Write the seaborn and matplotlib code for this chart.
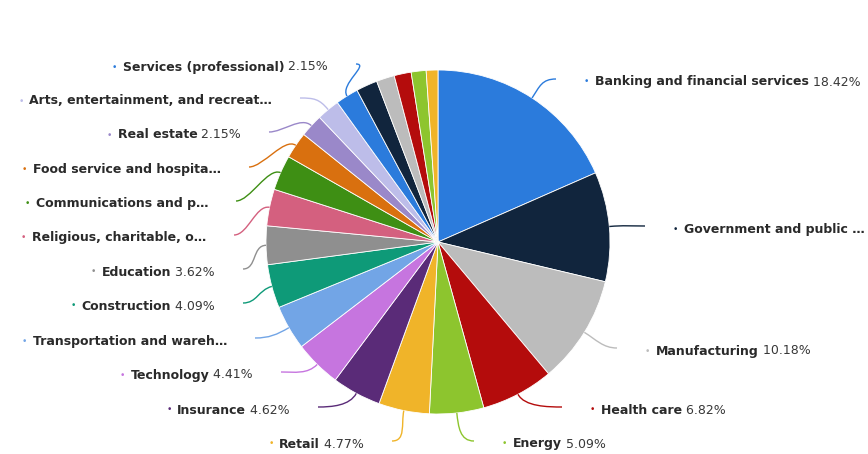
import matplotlib
matplotlib.use("Agg")
import matplotlib.pyplot as plt
import seaborn as sns
import numpy as np
from matplotlib.path import Path
from matplotlib.patches import PathPatch

# ---------------- data ----------------
sectors = [
    "Banking and financial services", "Government and public \u2026", "Manufacturing",
    "Health care", "Energy", "Retail", "Insurance", "Technology",
    "Transportation and wareh\u2026", "Construction", "Education",
    "Religious, charitable, o\u2026", "Communications and p\u2026",
    "Food service and hospita\u2026", "Real estate",
    "Arts, entertainment, and recreat\u2026", "Services (professional)",
    "", "", "", "", "",
]
shares = [18.42, 10.3, 10.18, 6.82, 5.09, 4.77, 4.62, 4.41, 4.2, 4.09, 3.62,
          3.45, 3.3, 2.5, 2.15, 2.15, 2.15, 2.0, 1.7, 1.6, 1.4, 1.1]
colors = ["#2b7bdc", "#11253d", "#bcbcbc", "#b40c0c", "#8dc52e", "#f0b429",
          "#5a2b78", "#c675df", "#72a5e6", "#0e9a78", "#8f8f8f", "#d4607f",
          "#3e8f14", "#d9700f", "#9a88c9", "#bdbde9", "#2b7bdc",
          "#11253d", "#bcbcbc", "#b40c0c", "#8dc52e", "#f0b429"]

# ---------------- layout (pixels from top-left) ----------------
W, H = 868, 454
CX, CY, R = 438, 242, 172
# side, label y, text edge x (right side: left edge of bullet; left side: right end of text)
label_layout = {
    0: ("R", 82, 584), 1: ("R", 229, 673), 2: ("R", 351, 645),
    3: ("R", 410, 590), 4: ("R", 444, 502),
    5: ("L", 444, 364), 6: ("L", 410, 290), 7: ("L", 375, 253),
    8: ("L", 341, 227), 9: ("L", 306, 215), 10: ("L", 272, 215),
    11: ("L", 238, 206), 12: ("L", 204, 208), 13: ("L", 170, 221),
    14: ("L", 135, 241), 15: ("L", 101, 272), 16: ("L", 67, 328),
}

sns.set_theme(style="white")
plt.rcParams["font.family"] = ["DejaVu Sans"]

fig = plt.figure(figsize=(W / 100, H / 100), dpi=100)
ax = fig.add_axes([0, 0, 1, 1])

wedges, _ = ax.pie(shares, colors=colors, startangle=90, counterclock=False,
                   center=(CX, H - CY), radius=R,
                   wedgeprops=dict(edgecolor="white", linewidth=0.6))
ax.set_xlim(0, W)
ax.set_ylim(0, H)
ax.set_aspect("equal")
ax.axis("off")

total = sum(shares)
cum = np.cumsum([0] + shares[:-1]) / total * 360
mids = cum + np.array(shares) / total * 180

FS = 9.0
NAME_COLOR = "#2a2a2a"
PCT_COLOR = "#383838"
for i, name in enumerate(sectors):
    if i not in label_layout or not name:
        continue
    side, ly, lx = label_layout[i]
    Y = H - ly
    th = np.deg2rad(mids[i])
    u = np.array([np.sin(th), np.cos(th)])
    p0 = np.array([CX, H - CY]) + u * R
    p1 = p0 + u * 14
    if side == "R":
        p3 = np.array([lx - 28, Y + 3])
        p2 = p3 + np.array([-14, 0])
    else:
        p3 = np.array([lx + 28, Y + 3])
        p2 = p3 + np.array([14, 0])
    path = Path([p0, p1, p2, p3], [Path.MOVETO, Path.CURVE4, Path.CURVE4, Path.CURVE4])
    ax.add_patch(PathPatch(path, fc="none", ec=colors[i], lw=1.0))

    truncated = name.endswith("\u2026")
    pct = "" if truncated else f" {shares[i]:.2f}%"
    if side == "R":
        b = ax.text(lx, Y, "\u2022", color=colors[i], fontsize=6.5, ha="left", va="center")
        t = ax.annotate(name, xy=(1, 0.5), xycoords=b, xytext=(4, 0), textcoords="offset points",
                        ha="left", va="center", fontsize=FS, fontweight="bold", color=NAME_COLOR)
        if pct:
            ax.annotate(pct, xy=(1, 0.5), xycoords=t, ha="left", va="center",
                        fontsize=FS, color=PCT_COLOR)
    else:
        if pct:
            p = ax.text(lx, Y, pct, ha="right", va="center", fontsize=FS, color=PCT_COLOR)
            t = ax.annotate(name, xy=(0, 0.5), xycoords=p, ha="right", va="center",
                            fontsize=FS, fontweight="bold", color=NAME_COLOR)
        else:
            t = ax.text(lx, Y, name, ha="right", va="center", fontsize=FS,
                        fontweight="bold", color=NAME_COLOR)
        ax.annotate("\u2022", xy=(0, 0.5), xycoords=t, xytext=(-4, 0), textcoords="offset points",
                    ha="right", va="center", fontsize=6.5, color=colors[i])

fig.savefig("out.png", dpi=100, facecolor="white")
